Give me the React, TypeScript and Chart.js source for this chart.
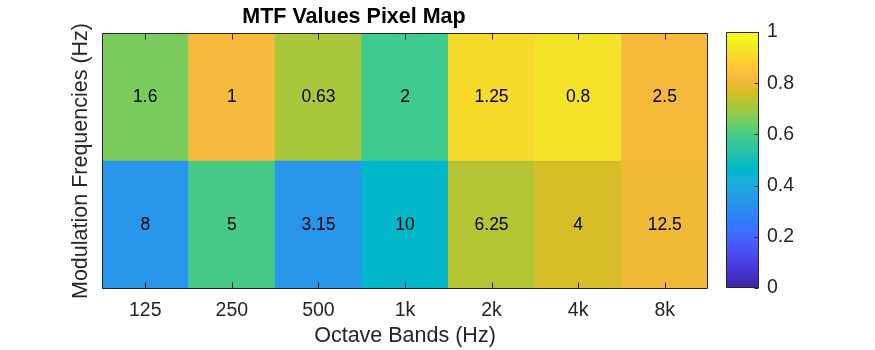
import React, { useEffect, useRef } from 'react';
import { Chart, registerables } from 'chart.js';

Chart.register(...registerables);

// ---- data ----
const octaveBands = ['125', '250', '500', '1k', '2k', '4k', '8k'];
// modulation frequencies (Hz) written in the cells
const modFreqLow = ['1.6', '1', '0.63', '2', '1.25', '0.8', '2.5'];
const modFreqHigh = ['8', '5', '3.15', '10', '6.25', '4', '12.5'];
// MTF values (colour of each cell)
const mtfLow = [0.66, 0.825, 0.71, 0.587, 0.917, 0.937, 0.82];
const mtfHigh = [0.333, 0.598, 0.333, 0.46, 0.724, 0.77, 0.81];
const colorbarRange = [0, 1];
const colorbarStep = 0.2;

const titleText = 'MTF Values Pixel Map';
const xTitle = 'Octave Bands (Hz)';
const yTitle = 'Modulation Frequencies (Hz)';

// ---- style ----
const FONT = '"Liberation Sans", Arial, Helvetica, sans-serif';
const AXIS_COLOR = '#262626';

// MATLAB parula colormap (64 entries)
const PARULA: number[][] = [
  [0.2422, 0.1504, 0.6603], [0.2504, 0.165, 0.7076], [0.2578, 0.1818, 0.7511], [0.2647, 0.1978, 0.7952],
  [0.2706, 0.2147, 0.8364], [0.2751, 0.2342, 0.871], [0.2783, 0.2559, 0.8991], [0.2803, 0.2782, 0.9221],
  [0.2813, 0.3006, 0.9414], [0.281, 0.3228, 0.9579], [0.2795, 0.3447, 0.9717], [0.276, 0.3667, 0.9829],
  [0.2699, 0.3892, 0.9906], [0.2602, 0.4123, 0.9952], [0.244, 0.4358, 0.9988], [0.2206, 0.4603, 0.9973],
  [0.1963, 0.4847, 0.9892], [0.1834, 0.5074, 0.9798], [0.1786, 0.5289, 0.9682], [0.1764, 0.5499, 0.952],
  [0.1687, 0.5703, 0.9359], [0.154, 0.5902, 0.9218], [0.146, 0.6091, 0.9079], [0.138, 0.6276, 0.8973],
  [0.1248, 0.6459, 0.8883], [0.1113, 0.6635, 0.8763], [0.0952, 0.6798, 0.8598], [0.0689, 0.6948, 0.8394],
  [0.0297, 0.7082, 0.8163], [0.0036, 0.7203, 0.7917], [0.0067, 0.7312, 0.766], [0.0433, 0.7411, 0.7394],
  [0.0964, 0.75, 0.712], [0.1408, 0.7584, 0.6842], [0.1717, 0.767, 0.6554], [0.1938, 0.7758, 0.6251],
  [0.2161, 0.7843, 0.5923], [0.247, 0.7918, 0.5567], [0.2906, 0.7973, 0.5188], [0.3406, 0.8008, 0.4789],
  [0.3909, 0.8029, 0.4354], [0.4456, 0.8024, 0.3909], [0.5044, 0.7993, 0.348], [0.5616, 0.7942, 0.3045],
  [0.6174, 0.7876, 0.2612], [0.672, 0.7793, 0.2227], [0.7242, 0.7698, 0.191], [0.7738, 0.7598, 0.1646],
  [0.8203, 0.7498, 0.1535], [0.8634, 0.7406, 0.1596], [0.9035, 0.733, 0.1774], [0.9393, 0.7288, 0.21],
  [0.9728, 0.7298, 0.2394], [0.9956, 0.7434, 0.2371], [0.997, 0.7659, 0.2199], [0.9952, 0.7893, 0.2028],
  [0.9892, 0.8136, 0.1885], [0.9786, 0.8386, 0.1766], [0.9676, 0.8639, 0.1643], [0.961, 0.889, 0.1537],
  [0.9597, 0.9135, 0.1423], [0.9628, 0.9373, 0.1265], [0.9691, 0.9606, 0.1064], [0.9769, 0.9839, 0.0805],
];

function rgbOf(c: number[]): string {
  return `rgb(${Math.round(c[0] * 255)},${Math.round(c[1] * 255)},${Math.round(c[2] * 255)})`;
}

function parula(v: number): string {
  const t = Math.min(1, Math.max(0, (v - colorbarRange[0]) / (colorbarRange[1] - colorbarRange[0]))) * 63;
  const i = Math.floor(t);
  const f = t - i;
  const a = PARULA[i];
  const b = PARULA[Math.min(63, i + 1)];
  return rgbOf(a.map((x, k) => x + (b[k] - x) * f));
}

const rows = [
  { labels: modFreqHigh, mtf: mtfHigh, span: [0, 1] },
  { labels: modFreqLow, mtf: mtfLow, span: [1, 2] },
];

const heatDecor = {
  id: 'heatDecor',
  afterDatasetsDraw(chart: any) {
    const ctx = chart.ctx;
    const { left, right, top, bottom } = chart.chartArea;
    ctx.save();
    // cell labels
    ctx.fillStyle = '#000';
    ctx.font = `17.5px ${FONT}`;
    ctx.textAlign = 'center';
    ctx.textBaseline = 'middle';
    rows.forEach((r, ri) => {
      const meta = chart.getDatasetMeta(ri);
      meta.data.forEach((el: any, i: number) => {
        const p = el.getProps(['x', 'y', 'base'], true);
        ctx.fillText(r.labels[i], p.x, (p.y + p.base) / 2);
      });
    });
    // box + inner ticks
    ctx.strokeStyle = AXIS_COLOR;
    ctx.lineWidth = 1;
    const L = Math.round(left) + 0.5;
    const T = Math.round(top) + 0.5;
    const R = Math.round(right) - 0.5;
    const B = Math.round(bottom) - 0.5;
    ctx.beginPath();
    ctx.rect(L, T, R - L, B - T);
    const xs = chart.scales.x;
    octaveBands.forEach((_, i) => {
      const px = Math.round(xs.getPixelForValue(i)) + 0.5;
      ctx.moveTo(px, B);
      ctx.lineTo(px, B - 6);
      ctx.moveTo(px, T);
      ctx.lineTo(px, T + 6);
    });
    ctx.stroke();
    ctx.restore();
  },
};

const colorbarDecor = {
  id: 'colorbarDecor',
  afterDatasetsDraw(chart: any) {
    const ctx = chart.ctx;
    const { left, right, top, bottom } = chart.chartArea;
    ctx.save();
    ctx.strokeStyle = AXIS_COLOR;
    ctx.lineWidth = 1;
    const L = Math.round(left) + 0.5;
    const T = Math.round(top) + 0.5;
    const R = Math.round(right) - 0.5;
    const B = Math.round(bottom) - 0.5;
    ctx.beginPath();
    ctx.rect(L, T, R - L, B - T);
    const ys = chart.scales.y;
    ys.ticks.forEach((t: any) => {
      const py = Math.round(ys.getPixelForValue(t.value)) + 0.5;
      ctx.moveTo(R, py);
      ctx.lineTo(R - 4, py);
    });
    ctx.stroke();
    ctx.restore();
  },
};

export default function App() {
  const mainRef = useRef<HTMLCanvasElement>(null);
  const cbRef = useRef<HTMLCanvasElement>(null);

  useEffect(() => {
    const main = new Chart(mainRef.current as HTMLCanvasElement, {
      type: 'bar',
      data: {
        labels: octaveBands,
        datasets: rows.map((r) => ({
          data: r.mtf.map(() => r.span),
          backgroundColor: r.mtf.map(parula),
          borderWidth: 0,
          barPercentage: 1,
          categoryPercentage: 1,
          grouped: false,
        })) as any,
      },
      options: {
        responsive: false,
        animation: false,
        layout: { padding: { left: 0, right: 102, top: 0, bottom: 0 } },
        plugins: {
          legend: { display: false },
          tooltip: { enabled: false },
          title: {
            display: true,
            text: titleText,
            color: '#000',
            font: { family: FONT, size: 21.5, weight: 'bold' },
            padding: { top: 4.6, bottom: 2.6 },
          },
        },
        scales: {
          x: {
            type: 'category',
            grid: { display: false, drawTicks: false },
            border: { display: false },
            ticks: {
              color: AXIS_COLOR,
              font: { family: FONT, size: 19.5 },
              padding: 10,
              maxRotation: 0,
              autoSkip: false,
            },
            title: {
              display: true,
              text: xTitle,
              color: AXIS_COLOR,
              font: { family: FONT, size: 21.5 },
              padding: { top: 0, bottom: 1 },
            },
            afterFit: (s: any) => {
              s.height = 61;
            },
          },
          y: {
            type: 'linear',
            min: 0,
            max: rows.length,
            grid: { display: false, drawTicks: false },
            border: { display: false },
            ticks: { display: false },
            title: {
              display: true,
              text: yTitle,
              color: AXIS_COLOR,
              font: { family: FONT, size: 21.5 },
              padding: { top: 68, bottom: 0 },
            },
            afterFit: (s: any) => {
              s.width = 102;
            },
          },
        },
      } as any,
      plugins: [heatDecor],
    });

    const cb = new Chart(cbRef.current as HTMLCanvasElement, {
      type: 'bar',
      data: {
        labels: ['MTF'],
        datasets: [
          {
            data: [colorbarRange] as any,
            backgroundColor: (c: any) => {
              const area = c.chart.chartArea;
              if (!area) return 'transparent';
              const g = c.chart.ctx.createLinearGradient(0, area.bottom, 0, area.top);
              const n = PARULA.length;
              PARULA.forEach((col, i) => {
                g.addColorStop(i / n, rgbOf(col));
                g.addColorStop((i + 1) / n, rgbOf(col));
              });
              return g;
            },
            borderWidth: 0,
            barPercentage: 1,
            categoryPercentage: 1,
          },
        ],
      },
      options: {
        responsive: false,
        animation: false,
        layout: { padding: { left: 26, right: 0, top: 32, bottom: 62 } },
        plugins: { legend: { display: false }, tooltip: { enabled: false }, title: { display: false } },
        scales: {
          x: { display: false },
          y: {
            position: 'right',
            min: colorbarRange[0],
            max: colorbarRange[1],
            grid: { display: false, drawTicks: false },
            border: { display: false },
            ticks: {
              stepSize: colorbarStep,
              color: AXIS_COLOR,
              font: { family: FONT, size: 19.5 },
              padding: 8,
              callback: (v: any) => String(Number(Number(v).toFixed(2))),
            },
            afterFit: (s: any) => {
              s.width = 116;
            },
          },
        },
      } as any,
      plugins: [colorbarDecor],
    });

    return () => {
      main.destroy();
      cb.destroy();
    };
  }, []);

  return (
    <div style={{ position: 'fixed', left: 0, top: 0, width: 875, height: 350, background: '#fff' }}>
      <canvas
        ref={mainRef}
        width={810}
        height={350}
        style={{ position: 'absolute', left: 0, top: 0, width: 810, height: 350 }}
      />
      <canvas
        ref={cbRef}
        width={175}
        height={350}
        style={{ position: 'absolute', left: 700, top: 0, width: 175, height: 350 }}
      />
    </div>
  );
}
